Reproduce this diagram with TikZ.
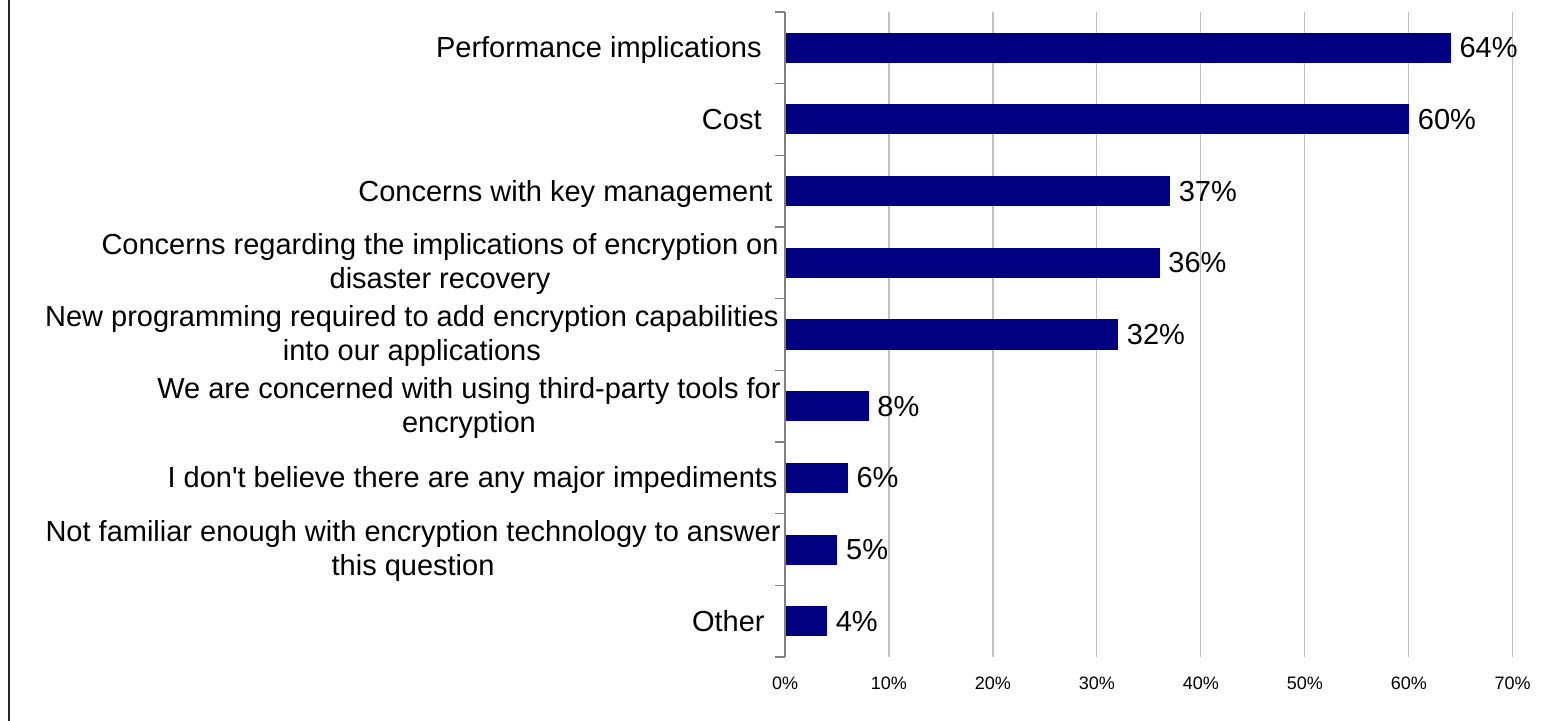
\documentclass[tikz,border=0pt]{standalone}
\usepackage{fontspec}
\setmainfont{Liberation Sans}[Ligatures=TeXOff]
\definecolor{navybar}{HTML}{000080}
\definecolor{gridgray}{HTML}{C0C0C0}
\definecolor{axisgray}{HTML}{808080}
\begin{document}
\begin{tikzpicture}[x=0.5pt,y=-0.5pt,
  catlabel/.style={font=\fontsize{14.5}{17}\selectfont, inner sep=0pt, align=center},
  vallabel/.style={font=\fontsize{14.5}{17}\selectfont, inner sep=0pt, anchor=west},
  ticklabel/.style={font=\fontsize{9}{11}\selectfont, inner sep=0pt},
  barnode/.style={fill=navybar, draw=none, inner sep=0pt, minimum height=15pt, anchor=west},
  gridline/.style={draw=gridgray, line width=0.6pt},
  axisline/.style={draw=axisgray, line width=0.6pt},
  frameline/.style={draw=black!85, line width=1.2pt}]
\useasboundingbox (0,0) rectangle (1547,721);
% frame
\coordinate (ftop) at (8.7,0);
\coordinate (fbot) at (8.7,721);
\draw[frameline] (ftop) -- (fbot);
% grid lines
\foreach \p in {1,...,7} {
  \coordinate (gt\p) at ({785+103.96*\p},12);
  \coordinate (gb\p) at ({785+103.96*\p},657);
  \draw[gridline] (gt\p) -- (gb\p);
}
% tick labels
\foreach \p/\t in {0/0,1/10,2/20,3/30,4/40,5/50,6/60,7/70} {
  \node[ticklabel] (tl\p) at ({785+103.96*\p},683) {\t\%};
}
% bars and value labels
\foreach \v [count=\i from 0] in {64,60,37,36,32,8,6,5,4} {
  \pgfmathsetmacro\yc{12+71.667*(\i+0.5)}
  \pgfmathsetmacro\bw{0.5*10.396*\v}
  \node[barnode, minimum width=\bw pt] (bar\i) at (785,\yc) {};
  \node[vallabel] (val\i) at ([xshift=4pt]bar\i.east) {\v\%};
}
% axis and ticks
\coordinate (atop) at (785,12);
\coordinate (abot) at (785,657);
\draw[axisline] (atop) -- (abot);
\foreach \k in {0,...,9} {
  \coordinate (tka\k) at (775,{12+71.667*\k});
  \coordinate (tkb\k) at (785,{12+71.667*\k});
  \draw[axisline] (tka\k) -- (tkb\k);
}
% category labels
\node[catlabel, anchor=base east] (c0) at (762,57.8) {Performance implications};
\node[catlabel, anchor=base east] (c1) at (762,129.5) {Cost};
\node[catlabel, anchor=base east] (c2) at (773,201.2) {Concerns with key management};
\node[catlabel, anchor=east] (c3) at (779,264.5) {Concerns regarding the implications of encryption on\\disaster recovery};
\node[catlabel, anchor=east] (c4) at (779,336.2) {New programming required to add encryption capabilities\\into our applications};
\node[catlabel, anchor=east] (c5) at (781,407.8) {We are concerned with using third-party tools for\\encryption};
\node[catlabel, anchor=base east] (c6) at (778,487.8) {I don't believe there are any major impediments};
\node[catlabel, anchor=east] (c7) at (781,551.2) {Not familiar enough with encryption technology to answer\\this question};
\node[catlabel, anchor=base east] (c8) at (765,631.2) {Other};
\end{tikzpicture}
\end{document}
